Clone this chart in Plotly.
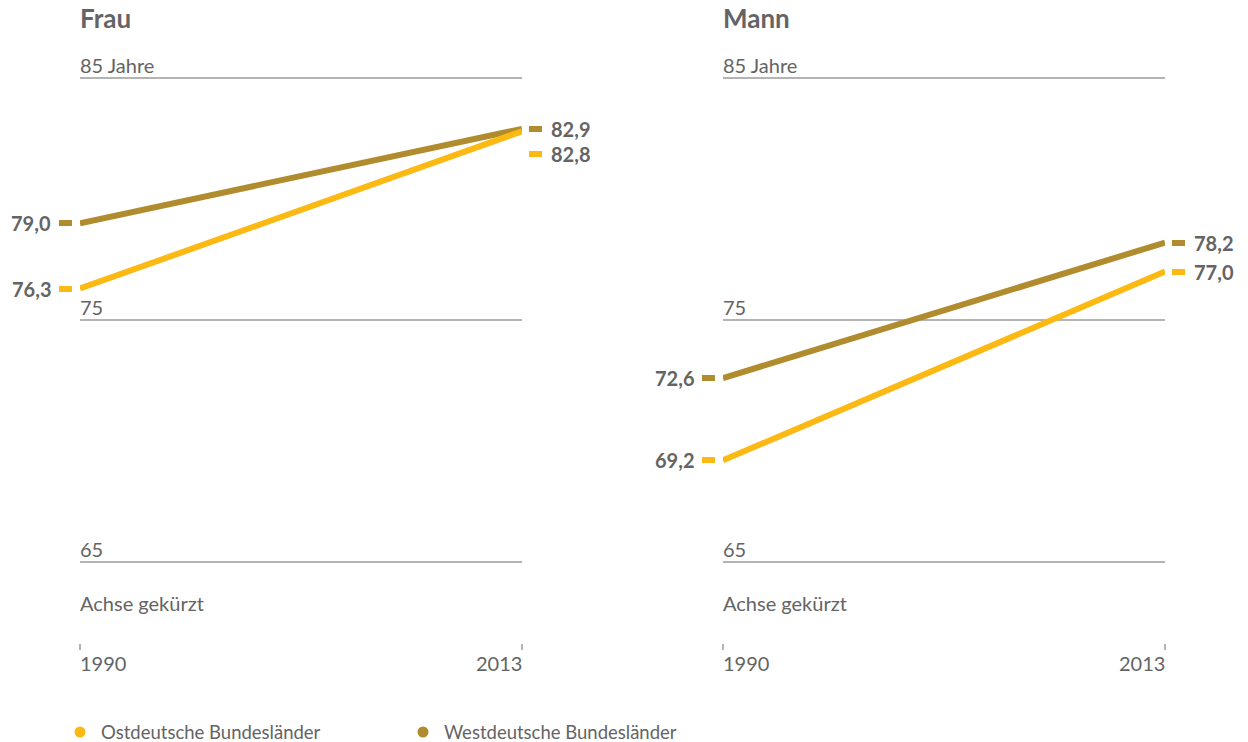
import plotly.graph_objects as go

# Lebenserwartung bei Geburt, 1990 und 2013
years = [1990, 2013]
frau_ost = [76.3, 82.8]
frau_west = [79.0, 82.9]
mann_ost = [69.2, 77.0]
mann_west = [72.6, 78.2]

y_ticks = [65, 75, 85]
y_tick_text = ["65", "75", "85 Jahre"]

series_names = ["Ostdeutsche Bundesländer", "Westdeutsche Bundesländer"]
panel_titles = ["Frau", "Mann"]

OST = "#FDB913"
WEST = "#B08C2E"
TEXT = "#646464"
GRID = "#B4B4B4"
FONT = "Lato"

W, H = 1248, 742
M_L, M_R, M_T, M_B = 80, 83, 66, 99
PW, PH = W - M_L - M_R, H - M_T - M_B


def fmt(v):
    return f"{v:.1f}".replace(".", ",")


def px_x(px):
    return (px - M_L) / PW


def px_y(py):
    return (H - M_B - py) / PH


fig = go.Figure()

panels = [
    ("x", "x domain", panel_titles[0], frau_ost, frau_west),
    ("x2", "x2 domain", panel_titles[1], mann_ost, mann_west),
]

# vertical pixel offsets so that close end labels do not collide
label_shift = {("x", 1, "ost"): -23}

annotations = []
shapes = []

for xa, xdom, title, ost, west in panels:
    for key, vals, color in (("west", west, WEST), ("ost", ost, OST)):
        fig.add_trace(go.Scatter(
            x=years, y=vals, mode="lines", xaxis=xa, yaxis="y",
            line=dict(color=color, width=6), showlegend=False, hoverinfo="skip",
        ))
        for i, v in enumerate(vals):
            shift = label_shift.get((xa, i, key), 0)
            left = i == 0
            # short end marker next to the value label
            annotations.append(dict(
                x=years[i], y=v, xref=xa, yref="y",
                xanchor="right" if left else "left", yanchor="middle",
                xshift=-8 if left else 7, yshift=shift,
                text=" ", width=13, height=6, borderpad=0, borderwidth=0,
                bgcolor=color, showarrow=False, font=dict(size=1),
            ))
            annotations.append(dict(
                x=years[i], y=v, xref=xa, yref="y",
                xanchor="right" if left else "left", yanchor="middle",
                xshift=-27 if left else 27, yshift=shift,
                text=f"<b>{fmt(v)}</b>", showarrow=False,
                font=dict(family=FONT, size=20, color=TEXT),
            ))

    # panel title
    annotations.append(dict(
        x=0, y=1, xref=xdom, yref="paper", xanchor="left", yanchor="bottom",
        xshift=-2, yshift=30, text=f"<b>{title}</b>", showarrow=False,
        font=dict(family=FONT, size=26, color=TEXT),
    ))
    # gridline labels
    for v, t in zip(y_ticks, y_tick_text):
        annotations.append(dict(
            x=0, y=v, xref=xdom, yref="y", xanchor="left", yanchor="bottom",
            xshift=-2, yshift=-1, text=t, showarrow=False,
            font=dict(family=FONT, size=20, color=TEXT),
        ))
    annotations.append(dict(
        x=0, y=y_ticks[0], xref=xdom, yref="y", xanchor="left", yanchor="middle",
        xshift=-2, yshift=-41, text="Achse gekürzt", showarrow=False,
        font=dict(family=FONT, size=20, color=TEXT),
    ))
    # year labels
    for i, yr in enumerate(years):
        annotations.append(dict(
            x=yr, y=0, xref=xa, yref="paper",
            xanchor="left" if i == 0 else "right", yanchor="top",
            xshift=-2 if i == 0 else 2, yshift=-6, text=str(yr), showarrow=False,
            font=dict(family=FONT, size=20, color=TEXT),
        ))

# legend below the panels
legend_x = [80, 423]
legend_y = 732
for name, color, lx in zip(series_names, (OST, WEST), legend_x):
    shapes.append(dict(
        type="circle", xref="paper", yref="paper",
        x0=px_x(lx - 5.5), x1=px_x(lx + 5.5),
        y0=px_y(legend_y + 5.5), y1=px_y(legend_y - 5.5),
        fillcolor=color, line=dict(width=0),
    ))
    annotations.append(dict(
        x=px_x(lx + 19), y=px_y(legend_y), xref="paper", yref="paper",
        xanchor="left", yanchor="middle", text=name, showarrow=False,
        font=dict(family=FONT, size=18.5, color=TEXT),
    ))

xaxis_common = dict(
    range=[years[0], years[1]], showgrid=False, zeroline=False, showline=False,
    tickvals=years, showticklabels=False, ticks="outside", ticklen=6,
    tickwidth=2, tickcolor=GRID, fixedrange=True,
)

# vertical scale: 24.2 px per year, top gridline (85) 12 px below the plot top
y_px_per_year = 24.2
y_top = y_ticks[-1] + 12 / y_px_per_year
y_bottom = y_top - PH / y_px_per_year

fig.update_layout(
    width=W, height=H,
    margin=dict(l=M_L, r=M_R, t=M_T, b=M_B),
    paper_bgcolor="white", plot_bgcolor="white",
    font=dict(family=FONT, color=TEXT),
    xaxis=dict(domain=[0, px_x(522)], anchor="y", **xaxis_common),
    xaxis2=dict(domain=[px_x(723), 1], anchor="y", **xaxis_common),
    yaxis=dict(
        range=[y_bottom, y_top], tickvals=y_ticks, showticklabels=False,
        showgrid=True, gridcolor=GRID, gridwidth=2, zeroline=False,
        showline=False, fixedrange=True,
    ),
    showlegend=False,
    annotations=annotations,
    shapes=shapes,
)

fig.write_html("out.html")
